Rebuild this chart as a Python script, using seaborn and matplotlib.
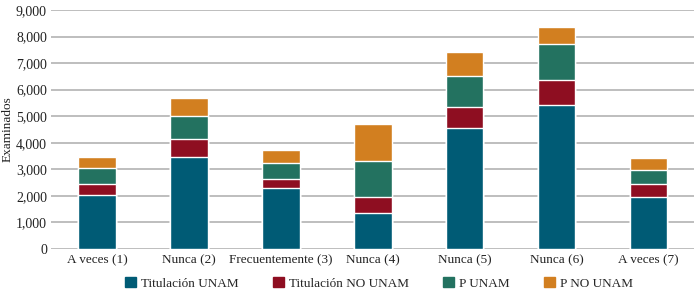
"""
Examinados por categoria: barras apiladas (Titulación / P, UNAM / NO UNAM).
"""

import pandas as pd
import matplotlib.pyplot as plt
import seaborn as sns
from matplotlib.patches import Patch

categories = [
    "A veces (1)",
    "Nunca (2)",
    "Frecuentemente (3)",
    "Nunca (4)",
    "Nunca (5)",
    "Nunca (6)",
    "A veces (7)",
]
titulacion_unam = [2030, 3475, 2310, 1370, 4560, 5430, 1970]
titulacion_no_unam = [430, 655, 330, 600, 790, 930, 470]
p_unam = [590, 880, 590, 1360, 1160, 1360, 520]
p_no_unam = [430, 675, 490, 1380, 890, 640, 450]

series_names = ["Titulación UNAM", "Titulación NO UNAM", "P UNAM", "P NO UNAM"]
colors = ["#005b75", "#8e0e21", "#237260", "#d27f20"]


def build_frame():
    """Wide table plus cumulative totals for stacking."""
    df = pd.DataFrame(
        {
            "Categoria": categories,
            series_names[0]: titulacion_unam,
            series_names[1]: titulacion_no_unam,
            series_names[2]: p_unam,
            series_names[3]: p_no_unam,
        }
    )
    cum = df[series_names].cumsum(axis=1)
    cum["Categoria"] = df["Categoria"]
    return cum


def plot(cum):
    sns.set_theme(style="white")
    plt.rcParams["font.family"] = ["Liberation Serif", "DejaVu Serif"]

    fig, ax = plt.subplots(figsize=(7, 2.93), dpi=100)
    fig.subplots_adjust(left=0.073, right=0.992, top=0.966, bottom=0.150)

    # draw tallest (cumulative) first so lower segments sit on top
    for name, color in reversed(list(zip(series_names, colors))):
        sns.barplot(
            data=cum,
            x="Categoria",
            y=name,
            color=color,
            width=0.41,
            saturation=1,
            ax=ax,
            zorder=3,
        )

    ax.set_ylim(0, 9000)
    ax.set_yticks(range(0, 9001, 1000))
    ax.set_yticklabels([f"{v:,}" for v in range(0, 9001, 1000)])
    ax.yaxis.grid(True, color="#b3b3b3", linewidth=1.2, zorder=0)
    ax.set_axisbelow(True)
    for side in ["top", "right", "left", "bottom"]:
        ax.spines[side].set_visible(False)
    ax.tick_params(axis="y", length=0, labelsize=10, colors="#222222", pad=3)
    ax.tick_params(axis="x", length=0, labelsize=9.5, colors="#222222", pad=4)
    ax.set_xlabel("")
    ax.set_ylabel("Examinados", fontsize=9.5, color="#222222")
    ax.yaxis.set_label_coords(-0.058, 0.5)

    handles = [Patch(facecolor=c, edgecolor=c) for c in colors]
    ax.legend(
        handles,
        series_names,
        loc="center",
        bbox_to_anchor=(0.51, -0.145),
        ncol=4,
        frameon=False,
        fontsize=9.5,
        handlelength=0.8,
        handleheight=0.8,
        handletextpad=0.4,
        columnspacing=2.6,
    )

    fig.savefig("out.png", dpi=100)


if __name__ == "__main__":
    plot(build_frame())
